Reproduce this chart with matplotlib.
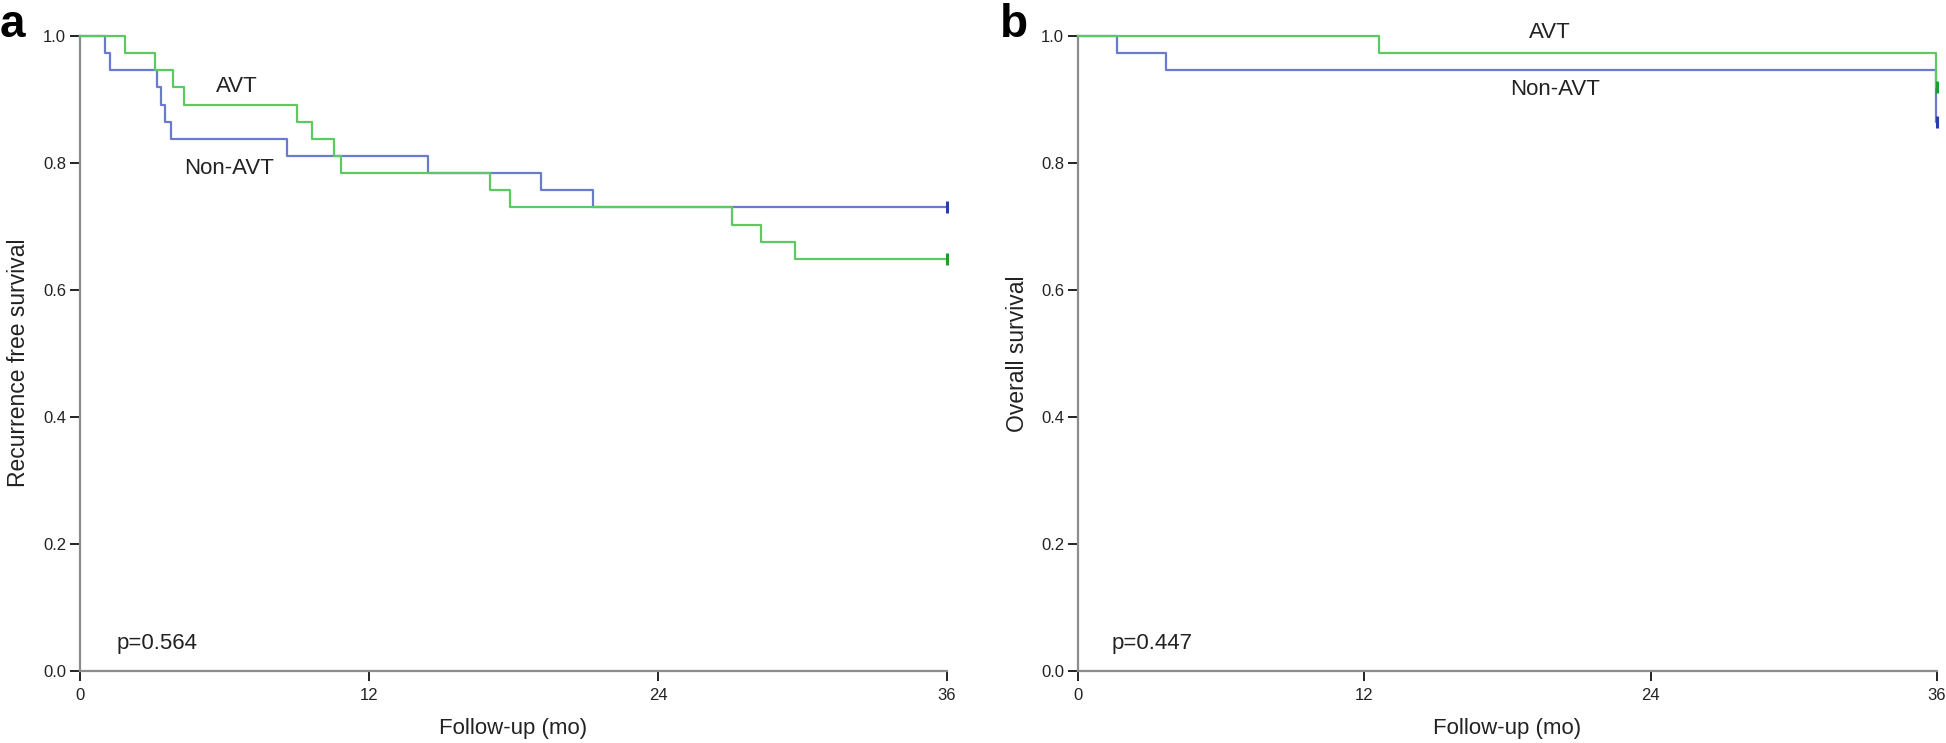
import matplotlib
matplotlib.use("Agg")
import matplotlib.pyplot as plt

plt.rcParams['font.family'] = ['Liberation Sans', 'DejaVu Sans']

# Panel a - recurrence free survival (months, proportion)
rfs_avt_t = [0, 1.87, 3.11, 3.85, 4.33, 9.02, 9.62, 10.55, 10.84, 17.02, 17.85, 27.08, 28.29, 29.69, 36]
rfs_avt_s = [1.0, 0.973, 0.946, 0.919, 0.892, 0.865, 0.838, 0.811, 0.784, 0.757, 0.730, 0.703, 0.676, 0.649, 0.649]
rfs_non_t = [0, 1.04, 1.25, 3.21, 3.35, 3.53, 3.76, 8.61, 14.47, 19.16, 21.31, 36]
rfs_non_s = [1.0, 0.973, 0.946, 0.919, 0.892, 0.865, 0.838, 0.811, 0.784, 0.757, 0.730, 0.730]

# Panel b - overall survival
os_avt_t = [0, 12.63, 35.95, 36]
os_avt_s = [1.0, 0.973, 0.919, 0.919]
os_non_t = [0, 1.65, 3.67, 35.95, 36]
os_non_s = [1.0, 0.973, 0.946, 0.865, 0.865]

x_ticks = [0, 12, 24, 36]
y_ticks = [0.0, 0.2, 0.4, 0.6, 0.8, 1.0]

GREEN = '#5cc963'
GREEN_DARK = '#1f9e2e'
BLUE = '#6a7bcc'
BLUE_DARK = '#2a3fa6'


def km_panel(ax, avt, non, ylabel, pval, avt_pos, non_pos, p_x, ylab_xy):
        for (t, s), col, dark in [(non, BLUE, BLUE_DARK), (avt, GREEN, GREEN_DARK)]:
                ax.step(t, s, where='post', color=col, lw=1.6, clip_on=False, zorder=3)
                ax.plot(t[-1], s[-1], marker='|', ms=8, mew=2.2, color=dark, clip_on=False, zorder=4)

        ax.set_xlim(0, 36)
        ax.set_ylim(0, 1)
        ax.set_xticks(x_ticks)
        ax.set_yticks(y_ticks)
        ax.set_yticklabels([f"{v:.1f}" for v in y_ticks])
        ax.tick_params(length=7, width=1.4, color='#222222', labelsize=12, labelcolor='#222222', pad=3)
        ax.tick_params(axis='x', pad=5)
        for side in ['top', 'right']:
                ax.spines[side].set_visible(False)
        for side in ['left', 'bottom']:
                ax.spines[side].set_color('#8c8c8c')
                ax.spines[side].set_linewidth(1.6)

        ax.set_xlabel("Follow-up (mo)", fontsize=16, color='#222222')
        ax.xaxis.set_label_coords(0.5, -0.09)
        ax.xaxis.label.set_va('center')
        ax.set_ylabel(ylabel, fontsize=16.5, color='#222222')
        ax.yaxis.set_label_coords(*ylab_xy)
        ax.yaxis.label.set_va('center')

        ax.text(avt_pos[0], avt_pos[1], "AVT", fontsize=16, color='#222222', ha='center', va='center')
        ax.text(non_pos[0], non_pos[1], "Non-AVT", fontsize=16, color='#222222', ha='center', va='center')
        ax.text(p_x, 0.044, pval, fontsize=16, color='#222222', ha='left', va='center')


fig = plt.figure(figsize=(19.46, 7.43), dpi=100)
ax_a = fig.add_axes([80 / 1946, 72 / 743, 867 / 1946, 635 / 743])
ax_b = fig.add_axes([1078 / 1946, 72 / 743, 859 / 1946, 635 / 743])

km_panel(ax_a, (rfs_avt_t, rfs_avt_s), (rfs_non_t, rfs_non_s), "Recurrence free survival",
         "p=0.564", (6.52, 0.921), (6.19, 0.792), 1.5, (-0.0715, 0.485))
km_panel(ax_b, (os_avt_t, os_avt_s), (os_non_t, os_non_s), "Overall survival",
         "p=0.447", (19.78, 1.005), (20.0, 0.915), 1.42, (-0.07, 0.5))

fig.text(0.0, (743 - 37) / 743, "a", fontsize=33, fontweight='bold', ha='left', va='baseline')
fig.text(1000 / 1946, (743 - 37) / 743, "b", fontsize=33, fontweight='bold', ha='left', va='baseline')

fig.savefig("out.png", dpi=100)
